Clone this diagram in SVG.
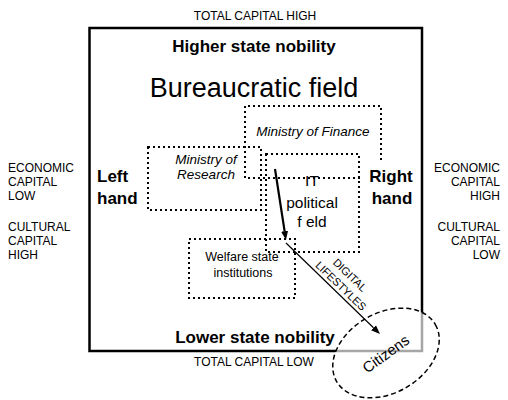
<svg xmlns="http://www.w3.org/2000/svg" width="508" height="400" viewBox="0 0 508 400">
<defs>
<style>
.t{font-family:"Liberation Sans",Arial,sans-serif;fill:#000}
.b{font-weight:bold}
.i{font-style:italic}
.dot{fill:none;stroke:#000;stroke-width:2;stroke-dasharray:2 3}
</style>
<marker id="ah" markerUnits="userSpaceOnUse" markerWidth="12" markerHeight="10" refX="0" refY="5" orient="auto" viewBox="0 0 12 10">
<path d="M0,1.5 L9,5 L0,8.5 z" fill="#000"/>
</marker>
</defs>
<rect width="508" height="400" fill="#fff"/>
<g id="axis-labels" class="t" font-size="12">
<text x="255" y="20" text-anchor="middle">TOTAL CAPITAL HIGH</text>
<text x="254" y="366" text-anchor="middle">TOTAL CAPITAL LOW</text>
<text x="8" y="172">ECONOMIC</text>
<text x="8" y="186">CAPITAL</text>
<text x="8" y="200">LOW</text>
<text x="8" y="231">CULTURAL</text>
<text x="8" y="245">CAPITAL</text>
<text x="8" y="259">HIGH</text>
<text x="500" y="172" text-anchor="end">ECONOMIC</text>
<text x="500" y="186" text-anchor="end">CAPITAL</text>
<text x="500" y="200" text-anchor="end">HIGH</text>
<text x="500" y="231" text-anchor="end">CULTURAL</text>
<text x="500" y="245" text-anchor="end">CAPITAL</text>
<text x="500" y="259" text-anchor="end">LOW</text>
</g>
<g id="bureaucratic-field">
<rect x="89.5" y="28" width="332.5" height="323" fill="none" stroke="#000" stroke-width="2.5"/>
<text class="t b" x="254" y="52" font-size="17" text-anchor="middle">Higher state nobility</text>
<text class="t" x="254" y="97" font-size="27" text-anchor="middle">Bureaucratic field</text>
<text class="t b" x="255" y="343" font-size="17" text-anchor="middle">Lower state nobility</text>
<text class="t b" x="97" y="182" font-size="17">Left</text>
<text class="t b" x="97" y="204" font-size="17">hand</text>
<text class="t b" x="391" y="182" font-size="17" text-anchor="middle">Right</text>
<text class="t b" x="392" y="204" font-size="17" text-anchor="middle">hand</text>
</g>
<g id="ministry-of-finance">
<path class="dot" d="M381,160 L381,106 L245,106 L245,178 L362,178"/>
<text class="t i" x="313" y="136" font-size="13.5" text-anchor="middle">Ministry of Finance</text>
</g>
<g id="ministry-of-research">
<rect class="dot" x="148" y="147" width="113" height="63"/>
<text class="t i" x="206" y="164" font-size="13.5" text-anchor="middle">Ministry of</text>
<text class="t i" x="206" y="179" font-size="13.5" text-anchor="middle">Research</text>
</g>
<g id="it-political-field">
<rect class="dot" x="266" y="154" width="93" height="98"/>
<text class="t" x="312" y="186" font-size="15.5" text-anchor="middle">IT</text>
<text class="t" x="312" y="208" font-size="15.5" text-anchor="middle">political</text>
<text class="t" x="312" y="227" font-size="15.5" text-anchor="middle">f eld</text>
</g>
<g id="welfare-state-institutions">
<rect class="dot" x="189" y="239" width="106" height="59"/>
<text class="t" x="242" y="261" font-size="12.5" text-anchor="middle">Welfare state</text>
<text class="t" x="243" y="277" font-size="12.5" text-anchor="middle">institutions</text>
</g>
<g id="citizens-shape">
<ellipse cx="386" cy="353" rx="57" ry="40" transform="rotate(-30 386 353)" fill="#fff" fill-opacity="0.65" stroke="#000" stroke-width="1.5" stroke-dasharray="5 3"/>
</g>
<g id="connectors" fill="none" stroke="#000">
<line x1="275" y1="169" x2="284.6" y2="231.1" stroke-width="2.2" marker-end="url(#ah)"/>
<line x1="286" y1="243" x2="373.5" y2="327.7" stroke-width="1.2" marker-end="url(#ah)"/>
</g>
<g id="connector-label" class="t" font-size="11">
<text transform="translate(350,275) rotate(44)" text-anchor="middle" y="4">DIGITAL</text>
<text transform="translate(350,275) rotate(44)" text-anchor="middle" x="1" y="18">LIFESTYLES</text>
</g>
<g id="citizens">
<text class="t" transform="translate(386,354) rotate(-36)" text-anchor="middle" y="5" font-size="15">Citizens</text>
</g>
</svg>
